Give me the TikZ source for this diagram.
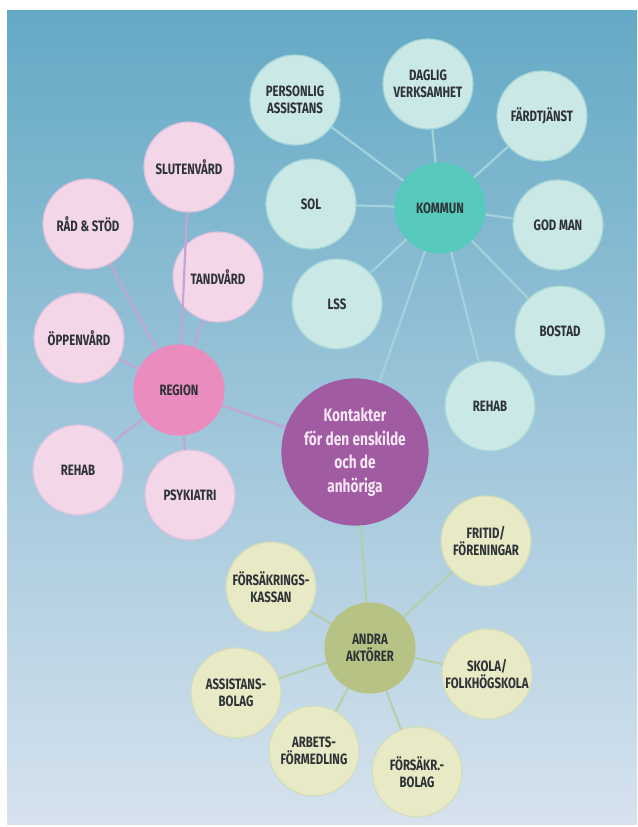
\documentclass[tikz,border=0pt]{standalone}
\usepackage{fontspec}
\newfontfamily\labfont[FakeStretch=0.76]{Fira Sans}

\definecolor{bgtop}{HTML}{64A9C5}
\definecolor{bgmid}{HTML}{82B8D2}
\definecolor{bgbot}{HTML}{D6E2EE}
\definecolor{labgray}{HTML}{2E3236}
\definecolor{tealpale}{HTML}{C9E8E6}
\definecolor{tealrim}{HTML}{A6D6D6}
\definecolor{tealhub}{HTML}{58C9BD}
\definecolor{tealline}{HTML}{A2D3DC}
\definecolor{pinkpale}{HTML}{F3D6E8}
\definecolor{pinkrim}{HTML}{D9C3DE}
\definecolor{pinkhub}{HTML}{EA8CBE}
\definecolor{pinkline}{HTML}{C2A6D2}
\definecolor{olivepale}{HTML}{E7EAC5}
\definecolor{oliverim}{HTML}{D2DCBE}
\definecolor{olivehub}{HTML}{B7C385}
\definecolor{oliveline}{HTML}{B5CEAE}
\definecolor{centrefill}{HTML}{A15BA3}
\definecolor{centretext}{HTML}{F7E8F4}

\tikzset{
    bubble/.style={circle, minimum size=90pt, inner sep=0pt, align=center, line width=1.2pt,
        font=\labfont\bfseries\fontsize{15}{16.5}\selectfont, text=labgray},
    kommunbubble/.style={bubble, fill=tealpale, draw=tealrim},
    regionbubble/.style={bubble, fill=pinkpale, draw=pinkrim},
    andrabubble/.style={bubble, fill=olivepale, draw=oliverim},
    kommunlink/.style={draw=tealline, line width=2.2pt},
    regionlink/.style={draw=pinkline, line width=2.2pt},
    andralink/.style={draw=oliveline, line width=2.2pt},
}

\begin{document}
\begin{tikzpicture}[x=1pt, y=-1pt]
    \useasboundingbox (0,0) rectangle (637,827);
    \shade[top color=bgtop, middle color=bgmid, bottom color=bgbot] (7,10) rectangle (637,824);

    \node[kommunbubble] (pers) at (295,100) {PERSONLIG\\ASSISTANS};
    \node[kommunbubble] (daglig) at (428,84) {DAGLIG\\VERKSAMHET};
    \node[kommunbubble] (fardt) at (542,116) {FÄRDTJÄNST};
    \node[kommunbubble] (sol) at (311,204) {SOL};
    \node[kommunbubble, fill=tealhub, draw=tealhub] (kommun) at (440,208) {KOMMUN};
    \node[kommunbubble] (godman) at (558,225) {GOD MAN};
    \node[kommunbubble] (lss) at (337,304) {LSS};
    \node[kommunbubble] (bostad) at (560,331) {BOSTAD};
    \node[kommunbubble] (krehab) at (490,406) {REHAB};

    \node[regionbubble] (sluten) at (189,167) {SLUTENVÅRD};
    \node[regionbubble] (radstod) at (88,224) {RÅD \& STÖD};
    \node[regionbubble] (tand) at (218,277) {TANDVÅRD};
    \node[regionbubble] (oppen) at (79,338) {ÖPPENVÅRD};
    \node[regionbubble, fill=pinkhub, draw=pinkhub] (region) at (179,390) {REGION};
    \node[regionbubble] (rrehab) at (78,470) {REHAB};
    \node[regionbubble] (psyk) at (190,495) {PSYKIATRI};

    \node[bubble, minimum size=146pt, fill=centrefill, draw=centrefill, text=centretext,
        font=\labfont\bfseries\fontsize{18}{23.5}\selectfont] (kontakt) at (355,452)
        {Kontakter\\för den enskilde\\och de\\anhöriga};

    \node[andrabubble] (fritid) at (486,541) {FRITID/\\FÖRENINGAR};
    \node[andrabubble] (fkassan) at (271,587) {FÖRSÄKRINGS-\\KASSAN};
    \node[andrabubble, fill=olivehub, draw=olivehub] (andra) at (370,648) {ANDRA\\AKTÖRER};
    \node[andrabubble] (skola) at (487,674) {SKOLA/\\FOLKHÖGSKOLA};
    \node[andrabubble] (assbolag) at (236,693) {ASSISTANS-\\BOLAG};
    \node[andrabubble] (arbf) at (314,751) {ARBETS-\\FÖRMEDLING};
    \node[andrabubble] (fbolag) at (417,772) {FÖRSÄKR.-\\BOLAG};

    \foreach \n in {pers,daglig,fardt,sol,godman,lss,bostad,krehab,kontakt}
        \draw[kommunlink] (kommun) -- (\n);
    \foreach \n in {sluten,radstod,tand,oppen,rrehab,psyk,kontakt}
        \draw[regionlink] (region) -- (\n);
    \foreach \n in {fritid,fkassan,skola,assbolag,arbf,fbolag,kontakt}
        \draw[andralink] (andra) -- (\n);
\end{tikzpicture}
\end{document}
